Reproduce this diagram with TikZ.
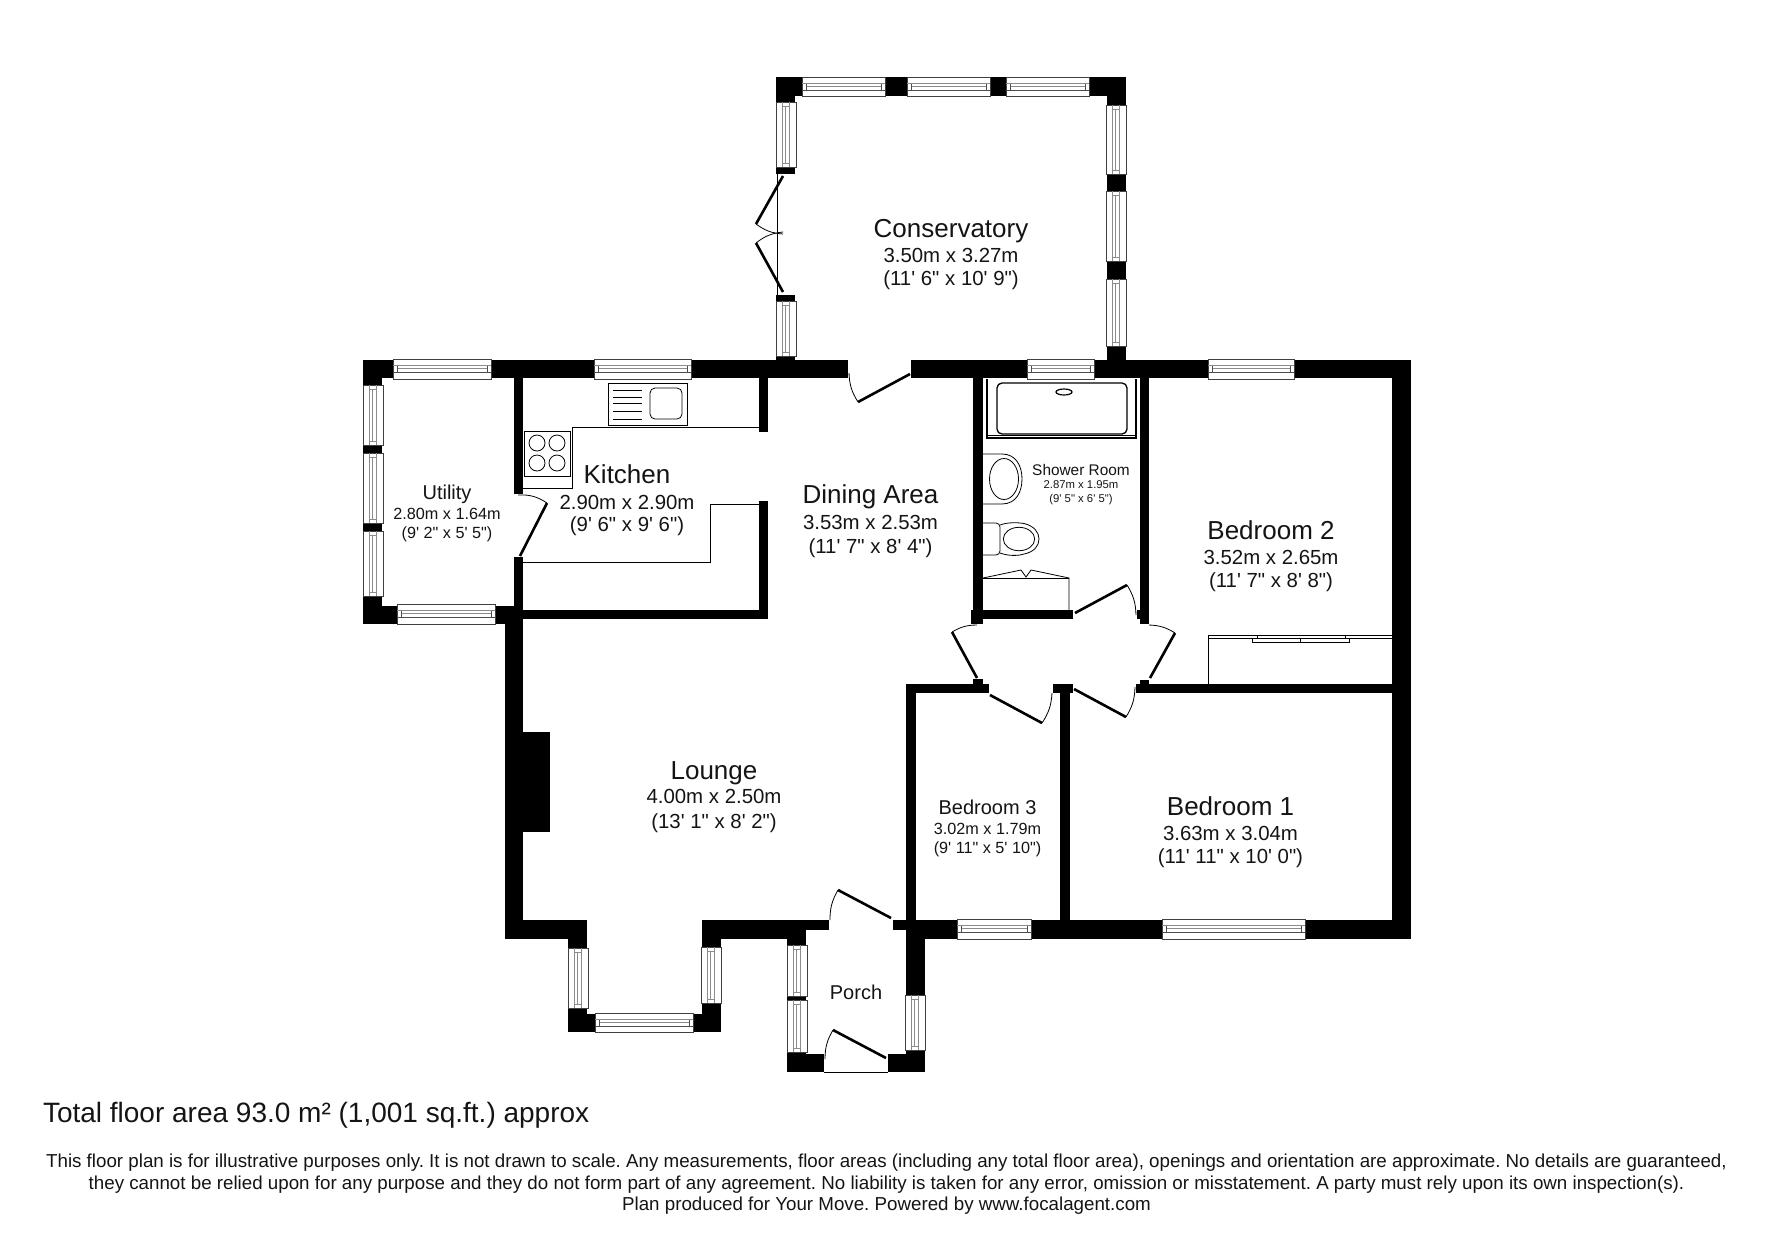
\documentclass[tikz,border=0pt]{standalone}
\usepackage{fontspec}
\newfontfamily\lab{Liberation Sans}
\tikzset{
  wall/.style={fill=black,draw=none},
  winouter/.style={draw=black!75,fill=white,line width=0.9pt},
  winline/.style={draw=black!70,line width=0.8pt},
  winthin/.style={draw=black!45,line width=0.7pt},
  fitting/.style={draw=black,line width=0.8pt},
  leaf/.style={draw=black,line width=2.6pt},
  swing/.style={draw=black,line width=0.8pt},
  txt/.style={inner sep=0pt,outer sep=0pt,anchor=base,text=black!92},
  big/.style={txt,font=\fontsize{26}{30}\selectfont\lab},
  dim/.style={txt,font=\fontsize{20.4}{24}\selectfont\lab},
  mid/.style={txt,font=\fontsize{20}{24}\selectfont\lab},
  sml/.style={txt,font=\fontsize{16.2}{20}\selectfont\lab},
  note/.style={txt,font=\fontsize{18.75}{22}\selectfont\lab\frenchspacing}
}
\newcommand\wl[4]{\fill[wall] (#1,#2) rectangle (#3,#4);}
\newcommand\hwin[4]{%
  \draw[winouter] (#1,#3) rectangle (#2,#4);
  \draw[winthin] ({#1},{#3+6.5}) -- ({#2},{#3+6.5});
  \draw[winline] ({#1},{#3+13}) -- ({#2},{#3+13});
  \draw[winthin] ({#1+4},{#3+9.5}) -- ({#2-4},{#3+9.5});
  \draw[winline] ({#1+4},{#3+6.5}) -- ({#1+4},{#3+13});
  \draw[winline] ({#2-4},{#3+6.5}) -- ({#2-4},{#3+13});
}
\newcommand\vwin[4]{%
  \draw[winouter] (#1,#3) rectangle (#2,#4);
  \draw[winthin] ({#1+6.5},{#3}) -- ({#1+6.5},{#4});
  \draw[winthin] ({#1+13},{#3}) -- ({#1+13},{#4});
  \draw[winthin] ({#1+9.5},{#3+4}) -- ({#1+9.5},{#4-4});
  \draw[winthin] ({#1+6.5},{#3+4}) -- ({#1+13},{#3+4});
  \draw[winthin] ({#1+6.5},{#4-4}) -- ({#1+13},{#4-4});
}
\newcommand\door[4]{%
  \draw[leaf] (#1) -- (#2);
  \draw[swing] (#2) to[#4] (#3);
}
\begin{document}
\begin{tikzpicture}[x=1pt,y=-1pt]
\useasboundingbox (0,0) rectangle (1771,1240);
% outer and partition walls
\wl{363}{360}{848}{378}
\wl{911}{360}{1411}{378}
\wl{1392}{360}{1411}{939}
\wl{906}{920}{1411}{939}
\wl{893}{920}{906}{930}
\wl{906}{939}{925}{995}
% utility
\wl{363}{360}{382}{385}
\wl{363}{445}{382}{453}
\wl{363}{523}{382}{531}
\wl{363}{596}{382}{624}
\wl{363}{606}{397}{624}
\wl{495}{606}{523}{624}
% kitchen
\wl{514}{378}{523}{494}
\wl{514}{557}{523}{606}
\wl{514}{610}{768}{619}
\wl{759}{378}{768}{432}
\wl{759}{501}{768}{619}
% lounge and bay
\wl{505}{606}{523}{939}
\wl{523}{732}{550}{832}
\wl{505}{920}{587}{939}
\wl{568}{920}{587}{948}
\wl{568}{1008}{587}{1032}
\wl{568}{1014}{595}{1032}
\wl{693}{1014}{721}{1032}
\wl{702}{1003}{721}{1032}
\wl{702}{920}{721}{947}
\wl{702}{920}{806}{939}
\wl{806}{920}{829}{930}
% porch
\wl{787}{920}{806}{945}
\wl{787}{996}{806}{1000}
\wl{787}{1052}{806}{1072}
\wl{787}{1054}{824}{1072}
\wl{888}{1054}{925}{1072}
\wl{906}{1050}{925}{1072}
\draw[swing] (824,1072) -- (888,1072);
% conservatory
\wl{776}{77}{802}{96}
\wl{776}{77}{795}{102}
\wl{885}{77}{907}{96}
\wl{990}{77}{1006}{96}
\wl{1089}{77}{1126}{96}
\wl{1107}{77}{1126}{105}
\wl{1107}{174}{1126}{191}
\wl{1107}{261}{1126}{279}
\wl{1107}{346}{1126}{362}
\wl{776}{167}{795}{174}
\wl{776}{295}{795}{301}
\wl{776}{356}{795}{362}
\draw[swing] (777,174) -- (777,295);
% shower room
\wl{973}{378}{983}{624}
\wl{971}{610}{983}{624}
\wl{973}{610}{1073}{619}
\wl{1140}{378}{1149}{624}
\wl{1137}{610}{1140}{619}
% bedrooms
\wl{1136}{684}{1392}{693}
\wl{1140}{680}{1149}{693}
\wl{906}{684}{989}{693}
\wl{973}{679}{983}{693}
\wl{906}{684}{916}{920}
\wl{1053}{684}{1073}{693}
\wl{1060}{684}{1070}{920}
% windows
\hwin{393}{491}{359}{379}
\hwin{594}{691}{359}{379}
\hwin{397}{495}{604}{624}
\hwin{1027}{1094}{359}{379}
\hwin{1208}{1294}{359}{379}
\hwin{957}{1031}{919}{939}
\hwin{1162}{1305}{919}{939}
\hwin{595}{693}{1013}{1032}
\hwin{802}{885}{77}{96}
\hwin{907}{990}{77}{96}
\hwin{1006}{1089}{77}{96}
\vwin{363}{383}{385}{445}
\vwin{363}{383}{453}{523}
\vwin{363}{383}{531}{596}
\vwin{776}{796}{102}{167}
\vwin{776}{796}{301}{356}
\vwin{1106}{1126}{105}{174}
\vwin{1106}{1126}{191}{261}
\vwin{1106}{1126}{279}{346}
\vwin{568}{588}{948}{1008}
\vwin{701}{721}{947}{1003}
\vwin{787}{807}{945}{996}
\vwin{787}{807}{1000}{1052}
\vwin{905}{925}{995}{1050}
% doors
\door{520,556}{547,503}{518,495}{bend right=18}
\door{783,176}{756,224}{783,234}{bend right=16}
\door{783,292}{756,243}{783,232}{bend left=16}
\door{910,374}{858,402}{849,373}{bend left=15}
\door{1075,613}{1127,585}{1136,615}{bend left=15}
\door{977,678}{952,632}{977,625}{bend left=15}
\door{1150,678}{1175,633}{1149,625}{bend right=15}
\door{990,695}{1042,723}{1052,693}{bend right=15}
\door{1074,689}{1126,717}{1135,687}{bend right=15}
\door{891,918}{838,890}{830,920}{bend right=15}
\door{886,1058}{833,1030}{825,1059}{bend right=15}
% kitchen units
\draw[fitting] (759,427) -- (572,427) -- (572,488) -- (523,488);
\draw[fitting] (523,562) -- (710,562) -- (710,504) -- (759,504);
\draw[fitting,fill=white] (608,383) rectangle (687,425);
\draw[fitting,rounded corners=5pt] (650,388) rectangle (682,419);
\foreach \yy in {390,397,403,411,419} \draw[fitting] (613,\yy) -- (642,\yy);
\draw[fitting,fill=white] (524,431) rectangle (570,476);
\foreach \cx/\cy in {537/443,557/443,537/463,557/463} \draw[fitting] (\cx,\cy) circle[radius=8];
% shower room fittings
\draw[fitting,line width=1.3pt] (987,379) -- (987,438) -- (1136,438) -- (1136,379);
\draw[fitting,line width=0.7pt] (987,435.5) -- (1136,435.5);
\draw[fitting,rounded corners=5pt,line width=1.3pt] (997,383) rectangle (1127,434);
\draw[fitting,line width=1.2pt] (1064,392) ellipse[x radius=8,y radius=3];
\draw[fitting] (983,454) -- (1002,454) .. controls (1016,454) and (1022,466) .. (1022,479) .. controls (1022,492) and (1016,504) .. (1002,504) -- (983,504);
\draw[fitting] (1004,479) ellipse[x radius=14.5,y radius=20.5];
\draw[fitting,rounded corners=4pt] (983,523) -- (1000,523) -- (1000,555) -- (983,555);
\draw[fitting] (1000,525) .. controls (1008,522) and (1018,522.5) .. (1024,523.5) .. controls (1034,526) and (1039,532) .. (1039,539) .. controls (1039,546) and (1034,552) .. (1024,554) .. controls (1018,556) and (1008,556) .. (1000,553);
\draw[fitting] (1019,539) ellipse[x radius=15.7,y radius=11.7];
\draw[fitting] (983,578) -- (1021,570) -- (1026,577) -- (1031,570) -- (1069,578) -- (1069,610);
\draw[fitting] (983,578) -- (1069,578);
% wardrobe
\draw[fitting] (1208,684) -- (1208,635) -- (1392,635);
\draw[fitting] (1208,638) -- (1392,638);
\draw[fitting,fill=white] (1252,638) rectangle (1300,642);
\draw[fitting,fill=white] (1300,638) rectangle (1349,642);
\draw[fitting,fill=white] (1257,635) rectangle (1345,638);
% room labels
\node[big] (consA) at (951,237) {Conservatory};
\node[dim] (consB) at (951,262) {3.50m x 3.27m};
\node[dim] (consC) at (951,285) {(11' 6" x 10' 9")};
\node[mid] (utilA) at (447,499) {Utility};
\node[sml] (utilB) at (447,519) {2.80m x 1.64m};
\node[sml] (utilC) at (447,538) {(9' 2" x 5' 5")};
\node[big] (kitA) at (627,483) {Kitchen};
\node[dim] (kitB) at (627,509) {2.90m x 2.90m};
\node[dim] (kitC) at (627,531) {(9' 6" x 9' 6")};
\node[big] (dinA) at (870.5,503) {Dining Area};
\node[dim] (dinB) at (870.5,529) {3.53m x 2.53m};
\node[dim] (dinC) at (870.5,553) {(11' 7" x 8' 4")};
\node[txt,font=\fontsize{15.4}{18}\selectfont\lab] (shoA) at (1081,475) {Shower Room};
\node[txt,font=\fontsize{11.3}{14}\selectfont\lab] (shoB) at (1081,488.5) {2.87m x 1.95m};
\node[txt,font=\fontsize{11.3}{14}\selectfont\lab] (shoC) at (1081,502) {(9' 5" x 6' 5")};
\node[big] (bedtA) at (1271,539.5) {Bedroom 2};
\node[dim] (bedtB) at (1271,564.5) {3.52m x 2.65m};
\node[dim] (bedtC) at (1271,587.5) {(11' 7" x 8' 8")};
\node[big] (lngA) at (714,779) {Lounge};
\node[dim] (lngB) at (714,803) {4.00m x 2.50m};
\node[dim] (lngC) at (714,828) {(13' 1" x 8' 2")};
\node[mid] (bedrA) at (987.5,814.5) {Bedroom 3};
\node[sml] (bedrB) at (987.5,834.5) {3.02m x 1.79m};
\node[sml] (bedrC) at (987.5,853.5) {(9' 11" x 5' 10")};
\node[big] (bedoA) at (1230.5,815.5) {Bedroom 1};
\node[dim] (bedoB) at (1230.5,840.5) {3.63m x 3.04m};
\node[dim] (bedoC) at (1230.5,863.5) {(11' 11" x 10' 0")};
\node[mid] (porch) at (856,999) {Porch};
% footer
\node[txt,anchor=base west,font=\fontsize{28}{30}\selectfont\lab\frenchspacing] (total) at (43,1122) {Total floor area 93.0 m² (1,001 sq.ft.) approx};
\node[note] (noteA) at (886.5,1167) {This floor plan is for illustrative purposes only. It is not drawn to scale. Any measurements, floor areas (including any total floor area), openings and orientation are approximate. No details are guaranteed,};
\node[note] (noteB) at (886.5,1189) {they cannot be relied upon for any purpose and they do not form part of any agreement. No liability is taken for any error, omission or misstatement. A party must rely upon its own inspection(s).};
\node[note] (noteC) at (886.5,1210) {Plan produced for Your Move. Powered by www.focalagent.com};
\end{tikzpicture}
\end{document}
